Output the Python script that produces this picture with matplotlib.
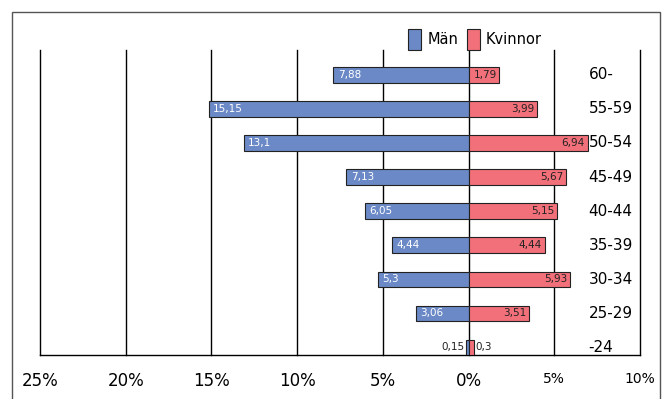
import numpy as np
import matplotlib
matplotlib.use('Agg')
import matplotlib.pyplot as plt
from matplotlib.patches import Rectangle

ages = ['-24', '25-29', '30-34', '35-39', '40-44', '45-49', '50-54', '55-59', '60-']
man = [0.15, 3.06, 5.3, 4.44, 6.05, 7.13, 13.1, 15.15, 7.88]
kvinnor = [0.3, 3.51, 5.93, 4.44, 5.15, 5.67, 6.94, 3.99, 1.79]
xticks = [-25, -20, -15, -10, -5, 0, 5, 10]
xticklabels = ['25%', '20%', '15%', '10%', '5%', '0%', '5%', '10%']

blue = '#6b89c6'
red = '#f2707a'

fig = plt.figure(figsize=(6.67, 3.99), dpi=100)
ax = fig.add_axes([40/667, 1-355/399, 600/667, 305/399])

y = np.arange(len(ages))
h = 0.45
ax.barh(y, [-v for v in man], height=h, color=blue, edgecolor='#222222', linewidth=0.8, zorder=3, label='Män')
ax.barh(y, kvinnor, height=h, color=red, edgecolor='#222222', linewidth=0.8, zorder=3, label='Kvinnor')

def fmt(v):
    return ('%g' % v).replace('.', ',')

for i in range(len(ages)):
    m, k = man[i], kvinnor[i]
    if m > 1:
        ax.text(-m + 0.25, i, fmt(m), color='white', fontsize=7.5, va='center', ha='left', zorder=4)
    else:
        ax.text(-m - 0.1, i, fmt(m), color='#222222', fontsize=7.5, va='center', ha='right', zorder=4)
    if k > 1:
        ax.text(k - 0.15, i, fmt(k), color='#222222', fontsize=7.5, va='center', ha='right', zorder=4)
    else:
        ax.text(k + 0.1, i, fmt(k), color='#222222', fontsize=7.5, va='center', ha='left', zorder=4)
    ax.text(7.0, i, ages[i], fontsize=11, va='center', ha='left')

for xv in xticks:
    ax.axvline(xv, color='black', linewidth=1, zorder=1, clip_on=False)

ax.set_xlim(-25, 10)
ax.set_ylim(-h/2, 8.73)
ax.set_yticks([])
ax.set_xticks(xticks)
ax.set_xticklabels(xticklabels)
ax.tick_params(axis='x', length=0, pad=12, labelsize=12)
for lbl in ax.get_xticklabels()[6:]:
    lbl.set_fontsize(10)
for s in ['top', 'left', 'right']:
    ax.spines[s].set_visible(False)
ax.spines['bottom'].set_linewidth(1)

ax.legend(loc='center', bbox_to_anchor=(0.725, 1.035), ncol=2, frameon=False,
          fontsize=10.5, handlelength=0.9, handleheight=1.9, columnspacing=0.6, handletextpad=0.4,
          borderpad=0)

fig.patches.append(Rectangle((12/667, -0.05), 648/667, 1.05 - 12/399, transform=fig.transFigure,
                             fill=False, edgecolor='#555555', linewidth=1))

fig.savefig('out.png', dpi=100)
